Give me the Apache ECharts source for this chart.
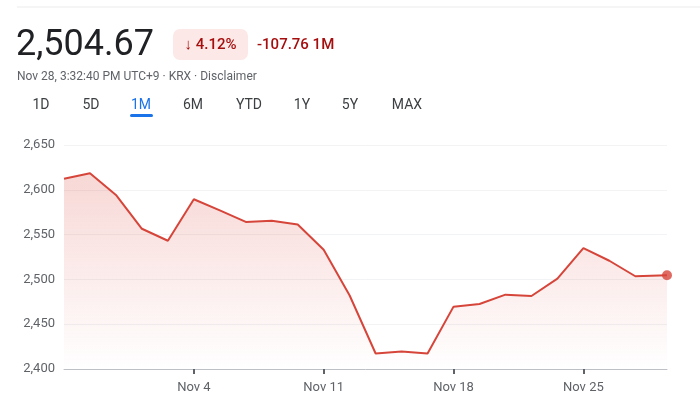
<!DOCTYPE html>
<html><head><meta charset="utf-8">
<script src="https://cdn.jsdelivr.net/npm/echarts@6/dist/echarts.min.js"></script>
<style>html,body{margin:0;padding:0;background:#fff}#c{width:700px;height:409px}</style>
</head><body><div id="c"></div>
<script>
// Trading days shown on the 1M chart
const dates = ['Oct 28','Oct 29','Oct 30','Oct 31','Nov 1','Nov 4','Nov 5','Nov 6','Nov 7','Nov 8','Nov 11','Nov 12','Nov 13','Nov 14','Nov 15','Nov 18','Nov 19','Nov 20','Nov 21','Nov 22','Nov 25','Nov 26','Nov 27','Nov 28'];
// Position of each point along the trading-day axis (last one is the live quote)
const dayIndex = [0,1,2,3,4,5,6,7,8,9,10,11,12,13,14,15,16,17,18,19,20,21,22,23.22];
const prices = [2612.43,2618.5,2594.3,2556.5,2543.1,2589.5,2577,2564.2,2565.4,2561.3,2533,2482,2417.3,2419.5,2417.3,2469.6,2472.6,2483,2481.5,2500.8,2535,2520.8,2503.5,2504.67];
const tickDays = [5,10,15,20];
const tickLabels = ['Nov 4','Nov 11','Nov 18','Nov 25'];
const yTicks = [2400,2450,2500,2550,2600,2650];
const header = {price:'2,504.67', pct:'\u2193 4.12%', change:'-107.76 1M', sub:'Nov 28, 3:32:40 PM UTC+9 \u00b7 KRX \u00b7 Disclaimer'};
const tabs = ['1D','5D','1M','6M','YTD','1Y','5Y','MAX'];
const tabX = [41,91,141,193,249,302,350,407];

const chart = echarts.init(document.getElementById('c'), null, {renderer:'canvas'});
const pts = dayIndex.map((d,i)=>[d, prices[i]]);
const last = pts[pts.length-1];
const FONT = 'Roboto, "Noto Sans", sans-serif';

const graphics = [
  {type:'line', shape:{x1:17,y1:7,x2:700,y2:7}, style:{stroke:'#ebebeb', lineWidth:1}},
  {type:'text', x:16, y:46, style:{text:header.price, font:'400 36px '+FONT, fill:'#202124', textVerticalAlign:'middle'}},
  {type:'rect', shape:{x:173,y:29,width:75,height:31,r:7}, style:{fill:'#fce8e6'}},
  {type:'text', x:210.5, y:45, style:{text:header.pct, font:'500 15px '+FONT, fill:'#a50e0e', textAlign:'center', textVerticalAlign:'middle'}},
  {type:'text', x:257, y:45, style:{text:header.change, font:'500 15px '+FONT, fill:'#a50e0e', textVerticalAlign:'middle'}},
  {type:'text', x:17, y:77, style:{text:header.sub, font:'400 12px '+FONT, fill:'#5f6368', textVerticalAlign:'middle'}},
  {type:'rect', shape:{x:130,y:114,width:23,height:3,r:1.5}, style:{fill:'#1a73e8'}}
];
tabs.forEach((t,i)=>{
  graphics.push({type:'text', x:tabX[i], y:105, style:{text:t, font:'400 14px '+FONT, fill: t==='1M'?'#1a73e8':'#3c4043', textAlign:'center', textVerticalAlign:'middle'}});
});

chart.setOption({
  animation:false,
  graphic: graphics,
  grid:{left:64, right:33, top:145, bottom:40},
  xAxis:{
    type:'value', min:0, max:dayIndex[dayIndex.length-1], interval:5,
    splitLine:{show:false},
    axisLine:{show:true, lineStyle:{color:'#bdc1c6', width:1}},
    axisTick:{show:true, customValues:tickDays, length:5, lineStyle:{color:'#5f6368', width:2}},
    axisLabel:{customValues:tickDays, formatter:(v)=>tickLabels[tickDays.indexOf(v)]||'', color:'#5f6368', fontFamily:FONT, fontSize:13, margin:12}
  },
  yAxis:{
    type:'value', min:yTicks[0], max:yTicks[yTicks.length-1], interval:50,
    axisLine:{show:false}, axisTick:{show:false},
    splitLine:{lineStyle:{color:'#f1f3f4', width:1}},
    axisLabel:{color:'#5f6368', fontFamily:FONT, fontSize:13, margin:9, formatter:(v)=>v.toLocaleString('en-US')}
  },
  series:[
    {type:'line', data:pts, symbol:'none', lineStyle:{color:'#d6453a', width:2}, z:3,
     areaStyle:{origin:'start', color:new echarts.graphic.LinearGradient(0,0,0,1,[{offset:0,color:'rgba(217,69,58,0.3)'},{offset:1,color:'rgba(217,69,58,0)'}])}},
    {type:'scatter', data:[last], symbol:'circle', symbolSize:10, itemStyle:{color:'#d6453a'}, z:4}
  ]
});
</script></body></html>
